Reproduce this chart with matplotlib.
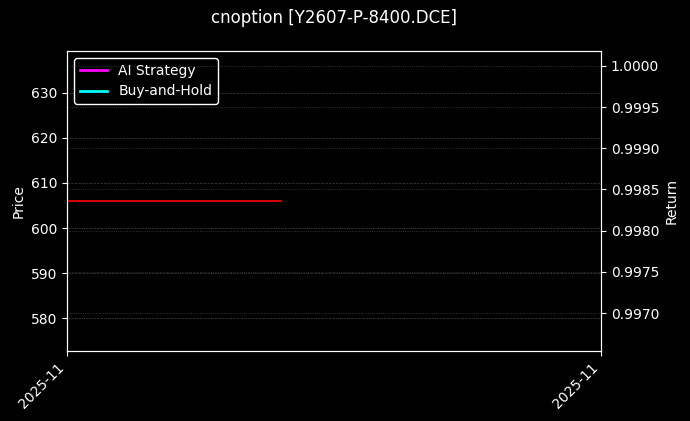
import matplotlib
matplotlib.use("Agg")
import matplotlib.pyplot as plt
import matplotlib.dates as mdates
import numpy as np
import pandas as pd

title = "cnoption [Y2607-P-8400.DCE]"
price_dates = pd.to_datetime(["2025-11-03", "2025-11-07"])
price_values = [606.0, 606.0]
x_range = pd.to_datetime(["2025-11-03", "2025-11-13"])
ai_returns = []
bh_returns = []
return_limits = (0.99654, 1.00018)

plt.style.use("dark_background")
fig = plt.figure(figsize=(6.9, 4.21), dpi=100)
ax = fig.add_axes([67/690, 1 - 351/421, (601-67)/690, (351-51)/421])
ax.set_facecolor("black")
fig.patch.set_facecolor("black")

ax.plot(price_dates, price_values, color="red", linewidth=1.2)
ax.set_ylabel("Price", color="white")
ax.grid(True, linestyle="--", color="gray", alpha=0.5, linewidth=0.5)

ax2 = ax.twinx()
l1, = ax2.plot([], [], color="magenta", linewidth=2, label="AI Strategy")
l2, = ax2.plot([], [], color="cyan", linewidth=2, label="Buy-and-Hold")
ax2.set_ylim(*return_limits)
ax2.set_ylabel("Return", color="white")
ax2.grid(True, linestyle=":", color="gray", alpha=0.5, linewidth=0.6)
ax2.yaxis.set_major_formatter(matplotlib.ticker.FormatStrFormatter("%.4f"))

ax.set_xlim(x_range[0], x_range[1])
ax.set_xticks(list(x_range))
ax.xaxis.set_major_formatter(mdates.DateFormatter("%Y-%m"))
for lbl in ax.get_xticklabels():
    lbl.set_rotation(45)
    lbl.set_ha("right")

leg = ax.legend(handles=[l1, l2], loc="upper left", facecolor="black", edgecolor="white", framealpha=1.0)
ax.set_title(title, pad=20, color="white")

fig.savefig("out.png", dpi=100, facecolor="black")
